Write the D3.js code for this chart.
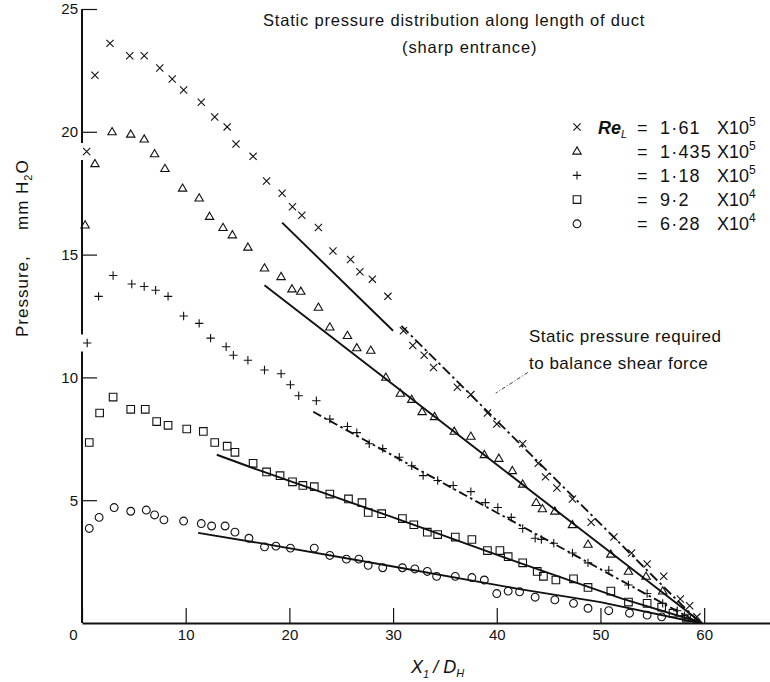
<!DOCTYPE html>
<html><head><meta charset="utf-8">
<script src="https://cdn.jsdelivr.net/npm/d3@7"></script>
<style>
body{margin:0;background:#fff}
svg{display:block}
text{font-family:"Liberation Sans",Arial,sans-serif;fill:#111}
</style>
</head><body>
<svg id="c" width="770" height="682"></svg>
<script>
// ---------- data ----------
const xTicks = [0, 10, 20, 30, 40, 50, 60];
const yTicks = [5, 10, 15, 20, 25];

const legendValues = ["1·61", "1·435", "1·18", "9·2", "6·28"];
const legendExponents = ["5", "5", "5", "4", "4"];
const seriesMarkers = ["times", "triangle", "plus", "square", "circle"];

// Re_L = 1.61e5 (x)
const crossX = [0.45,1.25,2.7,4.6,6.0,7.5,8.7,9.8,11.5,12.8,14.0,14.85,16.5,17.8,19.3,20.3,21.2,22.8,24.2,25.9,26.8,28.0,29.5,31.0,31.9,33.0,33.9,36.2,37.5,39.1,40.0,42.5,44.0,44.7,45.8,47.3,49.1,51.3,53.0,54.5,56.1,57.7,58.6,59.3];
const crossY = [19.2,22.3,23.6,23.1,23.1,22.6,22.15,21.7,21.2,20.6,20.2,19.5,19.0,18.0,17.5,16.95,16.6,16.1,15.15,14.8,14.3,14.0,13.3,11.9,11.3,10.9,10.4,9.6,9.3,8.55,8.1,7.3,6.5,5.95,5.5,5.05,4.1,3.5,2.85,2.4,1.9,0.98,0.7,0.25];
// Re_L = 1.435e5 (triangle)
const triX = [0.3,1.25,2.9,4.7,6.0,7.0,8.0,9.7,11.3,12.3,13.6,14.5,16.0,17.6,19.2,20.25,21.1,22.8,23.9,25.6,26.5,27.85,29.3,30.7,31.8,32.8,34.0,35.9,37.5,38.8,40.2,41.5,42.5,43.8,44.4,45.6,47.3,48.8,51.0,52.7,54.4,56.0];
const triY = [16.2,18.7,20.0,19.9,19.7,19.1,18.5,17.7,17.3,16.55,16.1,15.8,15.3,14.45,14.1,13.6,13.5,12.85,12.05,11.7,11.2,11.1,10.0,9.35,9.1,8.6,8.4,7.8,7.6,6.85,6.7,6.2,5.65,4.9,4.65,4.55,4.0,3.2,2.8,2.1,1.9,1.3];
// Re_L = 1.18e5 (+)
const plusX = [0.5,1.6,3.0,4.8,6.0,7.1,8.3,9.8,11.3,12.4,13.9,14.6,16.0,17.6,19.2,20.1,20.9,22.6,23.9,25.6,26.5,27.7,29.0,30.6,31.8,32.9,34.3,35.8,37.5,38.9,40.1,41.4,42.5,43.7,44.3,45.5,47.3,48.8,50.8,52.7,54.5,56.0,57.4,58.1];
const plusY = [11.4,13.3,14.15,13.8,13.7,13.55,13.3,12.5,12.2,11.6,11.25,10.9,10.7,10.3,10.15,9.7,9.25,9.05,8.3,8.0,7.75,7.3,7.1,6.75,6.4,6.0,5.8,5.6,5.35,4.9,4.7,4.3,3.85,3.45,3.4,3.25,2.85,2.45,2.15,1.55,1.2,0.8,0.5,0.3];
// Re_L = 9.2e4 (square)
const sqX = [0.7,1.7,3.0,4.7,6.1,7.2,8.3,10.1,11.7,12.8,14.0,14.75,16.5,17.8,19.1,20.3,21.3,22.4,23.9,25.7,27.0,27.6,28.9,30.9,32.0,33.3,34.3,36.0,37.6,39.1,40.3,41.1,42.5,43.9,44.5,45.7,47.4,48.8,51.0,52.7,54.5,55.9,57.0,58.3];
const sqY = [7.35,8.55,9.2,8.7,8.7,8.2,8.05,7.9,7.8,7.35,7.2,6.95,6.5,6.15,6.0,5.75,5.6,5.55,5.25,5.05,4.9,4.5,4.45,4.25,4.0,3.7,3.6,3.5,3.4,2.95,2.95,2.7,2.45,2.1,1.9,1.75,1.8,1.45,1.3,0.85,0.8,0.65,0.4,0.2];
// Re_L = 6.28e4 (circle)
const circX = [0.7,1.65,3.1,4.7,6.2,7.0,7.9,9.8,11.5,12.5,13.8,14.75,16.1,17.6,18.7,20.1,22.4,23.9,25.5,26.7,27.6,29.0,30.9,32.1,33.3,34.2,36.0,37.6,38.8,40.0,41.1,42.2,43.7,45.6,47.4,48.8,50.8,52.8,54.5,55.9];
const circY = [3.85,4.3,4.7,4.55,4.6,4.4,4.2,4.15,4.05,3.95,3.95,3.7,3.45,3.1,3.13,3.05,3.05,2.75,2.6,2.6,2.35,2.25,2.25,2.2,2.1,1.9,1.9,1.85,1.75,1.2,1.3,1.27,1.05,0.94,0.8,0.6,0.5,0.4,0.32,0.25];

// fitted lines
const crossSolidX = [19.3, 30.0], crossSolidY = [16.3, 11.9];
const crossDashX = [30.8, 59.6], crossDashY = [12.1, 0];
const triLineX = [17.6, 40.3, 59.8], triLineY = [13.75, 6.35, 0];
const plusDashX = [22.3, 40.2, 59.5], plusDashY = [8.6, 4.45, 0];
const sqLineX = [13.0, 17.2, 30, 42.2, 52, 59.8], sqLineY = [6.85, 6.2, 4.3, 2.45, 1.0, 0];
const circLineX = [11.2, 17.2, 30, 42.2, 50, 59.5], circLineY = [3.67, 3.25, 2.3, 1.38, 0.85, 0];
const leaderX = [43.0, 39.9], leaderY = [10.2, 9.36];

// ---------- drawing ----------
const svg = d3.select("#c");
const x = d3.scaleLinear().domain([0, 66.35]).range([82, 770]);
const y = d3.scaleLinear().domain([0, 25]).range([623, 9]);
const zip = (a, b) => a.map((v, i) => [v, b[i]]);

function markerPath(type) {
  switch (type) {
    case "times": { const s = 3.6; return `M${-s},${-s}L${s},${s}M${-s},${s}L${s},${-s}`; }
    case "plus": { const s = 4.2; return `M${-s},0H${s}M0,${-s}V${s}`; }
    case "triangle": { const w = 4.2, h = 7.2; return `M0,${-h*0.6}L${w},${h*0.4}L${-w},${h*0.4}Z`; }
    case "square": { const s = 3.8; return `M${-s},${-s}H${s}V${s}H${-s}Z`; }
    case "circle": { const r = 3.9; return `M${r},0A${r},${r} 0 1,1 ${-r},0A${r},${r} 0 1,1 ${r},0Z`; }
  }
}

// axes
const xAxis = d3.axisBottom(x).tickValues(xTicks).tickSizeInner(-15).tickSizeOuter(0).tickPadding(6).tickFormat(d3.format("d"));
const gx = svg.append("g").attr("transform", `translate(0,${y(0)})`).call(xAxis);
gx.select(".domain").attr("stroke-width", 2).attr("stroke", "#111");
gx.selectAll(".tick line").attr("stroke", "#111").attr("stroke-width", 1.2);
gx.selectAll(".tick text").style("font-size", "15px").attr("fill", "#111")
  .attr("dx", d => d === 0 ? -9 : 0);

const yAxis = d3.axisLeft(y).tickValues(yTicks).tickSizeInner(-15).tickSizeOuter(0).tickPadding(4);
const gy = svg.append("g").attr("transform", `translate(${x(0)},0)`).call(yAxis);
gy.select(".domain").remove();
gy.selectAll(".tick line").attr("stroke", "#111").attr("stroke-width", 1.2);
gy.selectAll(".tick text").style("font-size", "15px").attr("fill", "#111");

// y-axis line with breaks where first-point markers sit on it
const gaps = [crossY[0], plusY[0]].map(v => y(v)).sort((a, b) => a - b);
const segs = [];
let segTop = y(25);
gaps.forEach(g => { segs.push([segTop, g - 8.5]); segTop = g + 8.5; });
segs.push([segTop, y(0)]);
svg.append("g").selectAll("line").data(segs).join("line")
  .attr("x1", x(0)).attr("x2", x(0)).attr("y1", d => d[0]).attr("y2", d => d[1])
  .attr("stroke", "#111").attr("stroke-width", 2);

// lines
const line = d3.line().x(d => x(d[0])).y(d => y(d[1]));
const lines = [
  {pts: zip(crossSolidX, crossSolidY), dash: null},
  {pts: zip(crossDashX, crossDashY), dash: "10,3.5,2.5,3.5"},
  {pts: zip(triLineX, triLineY), dash: null},
  {pts: zip(plusDashX, plusDashY), dash: "9,3.5,2.5,3.5"},
  {pts: zip(sqLineX, sqLineY), dash: null},
  {pts: zip(circLineX, circLineY), dash: null}
];
svg.append("g").selectAll("path").data(lines).join("path")
  .attr("d", d => line(d.pts)).attr("fill", "none").attr("stroke", "#111")
  .attr("stroke-width", 1.9).attr("stroke-dasharray", d => d.dash);

// markers
const series = [zip(crossX, crossY), zip(triX, triY), zip(plusX, plusY), zip(sqX, sqY), zip(circX, circY)];
series.forEach((pts, i) => {
  svg.append("g").selectAll("path").data(pts).join("path")
    .attr("transform", d => `translate(${x(d[0])},${y(d[1])})`)
    .attr("d", markerPath(seriesMarkers[i]))
    .attr("fill", "none").attr("stroke", "#111").attr("stroke-width", 1.1);
});

// leader line
svg.append("path").attr("d", line(zip(leaderX, leaderY)))
  .attr("fill", "none").attr("stroke", "#111").attr("stroke-width", 0.8).attr("stroke-dasharray", "4,2,1,2");

// title
svg.append("text").attr("x", 263).attr("y", 26).style("font-size", "16.5px").style("letter-spacing", "0.8px")
  .text("Static pressure distribution along length of duct");
svg.append("text").attr("x", 402).attr("y", 53).style("font-size", "16.5px").style("letter-spacing", "0.9px")
  .text("(sharp entrance)");

// annotation
svg.append("text").attr("x", 529).attr("y", 342).style("font-size", "17px").style("letter-spacing", "0.5px")
  .text("Static pressure required");
svg.append("text").attr("x", 529).attr("y", 369).style("font-size", "17px").style("letter-spacing", "0.5px")
  .text("to balance shear force");

// legend
const lg = svg.append("g");
legendValues.forEach((v, i) => {
  const cy = 127 + i * 24.2;
  lg.append("path").attr("transform", `translate(577,${cy})`).attr("d", markerPath(seriesMarkers[i]))
    .attr("fill", "none").attr("stroke", "#111").attr("stroke-width", 1.1);
  const base = cy + 6.5;
  if (i === 0) {
    const t = lg.append("text").attr("x", 598).attr("y", base).style("font-size", "18px");
    t.append("tspan").style("font-weight", "bold").style("font-style", "italic").text("Re");
    t.append("tspan").attr("dy", 4).style("font-size", "11px").style("font-style", "italic").text("L");
  }
  lg.append("text").attr("x", 637).attr("y", base).style("font-size", "18px").text("=");
  lg.append("text").attr("x", 660).attr("y", base).style("font-size", "18px").style("letter-spacing", "1.2px").text(v);
  const e = lg.append("text").attr("x", 717).attr("y", base).style("font-size", "18px");
  e.append("tspan").text("X10");
  e.append("tspan").attr("dy", -8).style("font-size", "12px").text(legendExponents[i]);
});

// axis titles
const yl = svg.append("g").attr("transform", "translate(28,0) rotate(-90)");
yl.append("text").attr("x", -337).attr("y", 0).style("font-size", "17px").style("letter-spacing", "1px").text("Pressure,");
const mm = yl.append("text").attr("x", -230).attr("y", 0).style("font-size", "17px").style("letter-spacing", "1px");
mm.append("tspan").text("mm H");
mm.append("tspan").attr("dy", 4).style("font-size", "11px").text("2");
mm.append("tspan").attr("dy", -4).text("O");

const xl = svg.append("text").attr("x", 411).attr("y", 673).style("font-size", "18px").style("font-style", "italic");
xl.append("tspan").text("X");
xl.append("tspan").attr("dy", 5).style("font-size", "11px").text("1");
xl.append("tspan").attr("dy", -5).attr("dx", 4).text("/ D");
xl.append("tspan").attr("dy", 4).style("font-size", "11px").text("H");
</script>
</body></html>
